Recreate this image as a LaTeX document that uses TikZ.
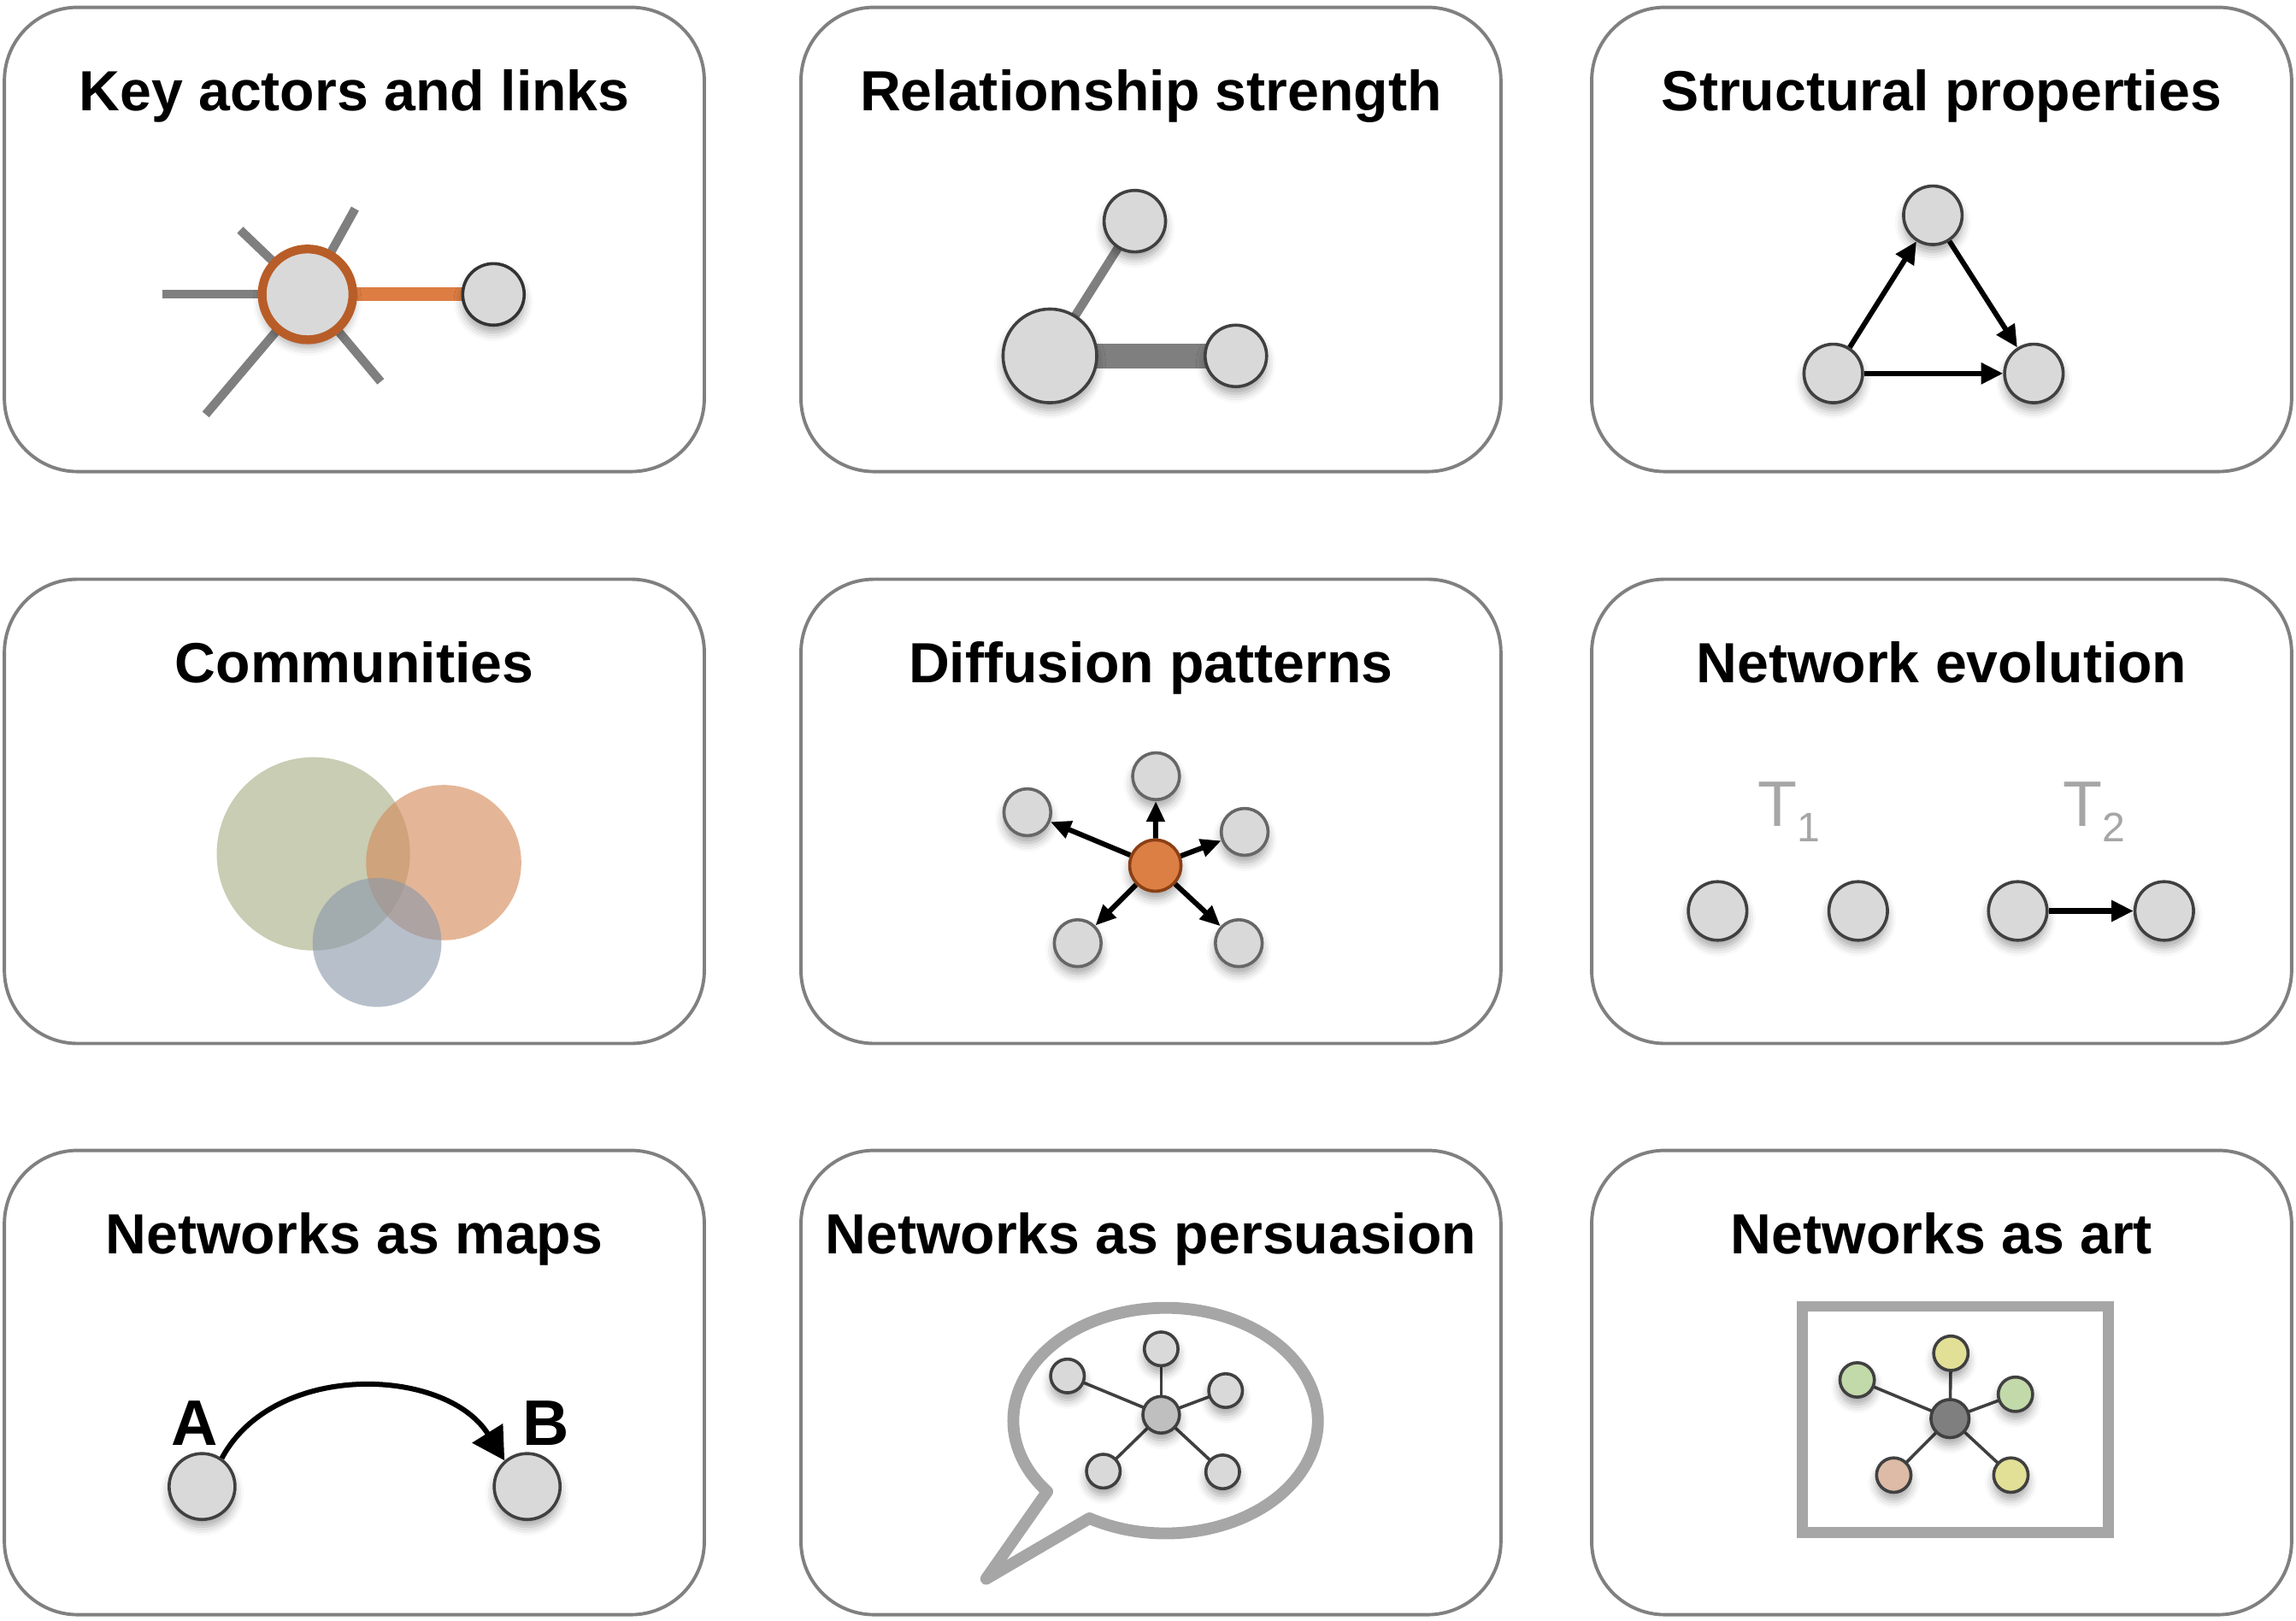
\documentclass[tikz,border=0pt]{standalone}
\usepackage{fontspec}
\setmainfont{Liberation Sans}
\usetikzlibrary{arrows.meta,backgrounds,shadows.blur}
\definecolor{boxgray}{HTML}{808080}
\definecolor{nodefill}{HTML}{D9D9D9}
\definecolor{nodeline}{HTML}{404040}
\definecolor{darkline}{HTML}{333333}
\definecolor{lightline}{HTML}{666666}
\definecolor{ringorange}{HTML}{B85D28}
\definecolor{edgeorange}{HTML}{DD7D43}
\definecolor{spokegray}{HTML}{7F7F7F}
\definecolor{commgreen}{RGB}{200,205,179}
\definecolor{commorange}{RGB}{212,139,91}
\definecolor{commblue}{RGB}{139,152,171}
\definecolor{seedorange}{HTML}{DC7F45}
\definecolor{seedline}{HTML}{8C3F14}
\definecolor{labelgray}{HTML}{A6A6A6}
\definecolor{framegray}{HTML}{A6A6A6}
\definecolor{hubgray}{HTML}{BFBFBF}
\definecolor{artcenter}{HTML}{7F7F7F}
\definecolor{artyellow}{HTML}{E2E096}
\definecolor{artgreen}{HTML}{C2D9A9}
\definecolor{artpeach}{HTML}{DDBBA6}
\tikzset{
  panel/.style={draw=boxgray, line width=0.65pt, rounded corners=5mm,
    minimum width=47.8mm, minimum height=31.7mm, inner sep=0pt},
  paneltitle/.style={font=\fontsize{11}{13}\selectfont\bfseries, anchor=base, inner sep=0pt},
  nodeshadow/.style={blur shadow={shadow xshift=0mm, shadow yshift=-0.5mm,
    shadow blur radius=0.6mm, shadow opacity=35}},
  actor/.style={circle, draw=nodeline, fill=nodefill, line width=0.6pt,
    inner sep=0pt, minimum size=#1, nodeshadow},
  actor/.default=4.2mm,
  spoke/.style={draw=spokegray, line width=1.7pt},
  tie/.style={draw=nodeline, line width=0.6pt},
  flow/.style={line width=1pt, -{Triangle[length=1.5mm,width=1.4mm]}},
  timelabel/.style={font=\fontsize{12.5}{15}\selectfont, text=labelgray, anchor=base west, inner sep=0pt},
  placelabel/.style={font=\fontsize{12.5}{15}\selectfont\bfseries, anchor=base, inner sep=0pt},
  bubble/.style={draw=framegray, line width=2.3pt, line join=round},
  frame/.style={draw=framegray, line width=2.1pt},
}
\begin{document}
\begin{tikzpicture}[x=0.1mm,y=0.1mm]
  \useasboundingbox (0,0) rectangle (1568,-1106.3);
  \foreach \name/\cx/\cy/\txt in {kal/242/163.5/Key actors and links,
    rel/786/163.5/Relationship strength, str/1326/163.5/Structural properties,
    com/242/554/Communities, dif/786/554/Diffusion patterns,
    evo/1326/554/Network evolution, map/242/944/Networks as maps,
    per/786/944/Networks as persuasion, art/1326/944/Networks as art}
  {
    \node[panel] (\name) at (\cx,-\cy) {};
    \node[paneltitle] (\name-title) at ([yshift=-7.15mm]\name.north) {\txt};
  }

  % key actors
  \node[actor=6.2mm, draw=ringorange, line width=1.7pt] (kal-hub) at (210,-201) {};
  \node[actor, draw=darkline] (kal-leaf) at (337,-201) {};
  \coordinate (kal-w) at (111,-201);
  \coordinate (kal-nw) at (164,-157);
  \coordinate (kal-ne) at (242.5,-142.5);
  \coordinate (kal-sw) at (140.5,-283);
  \coordinate (kal-se) at (260,-260.6);

  % relationship strength
  \node[actor=6.4mm] (rel-big) at (717,-243) {};
  \node[actor] (rel-top) at (775,-151) {};
  \node[actor] (rel-right) at (844,-243) {};

  % structural properties
  \node[actor=4mm] (str-top) at (1320,-147) {};
  \node[actor=4mm] (str-left) at (1252,-255) {};
  \node[actor=4mm] (str-right) at (1389,-255) {};
  \draw[flow] (str-left) -- (str-top);
  \draw[flow] (str-top) -- (str-right);
  \draw[flow] (str-left) -- (str-right);

  % communities
  \fill[commgreen] (214,-583) circle[radius=66];
  \fill[commorange, opacity=0.63] (303,-589) circle[radius=53];
  \fill[commblue, opacity=0.62] (257.5,-643.5) circle[radius=44];

  % diffusion
  \node[actor=3.5mm, fill=seedorange, draw=seedline] (dif-seed) at (789,-591) {};
  \foreach \n/\x/\y in {a/789.5/530, b/701.6/554.6, c/850/568, d/736/644, e/846/644}
  {
    \node[actor=3.2mm, draw=lightline] (dif-\n) at (\x,-\y) {};
    \draw[flow, -{Triangle[length=1.4mm,width=1.2mm]}] (dif-seed) -- (dif-\n);
  }

  % evolution
  \node[timelabel] (evo-t1) at (1200,-564) {T\raisebox{-3.1pt}{\fontsize{8}{9.6}\selectfont 1}};
  \node[timelabel] (evo-t2) at (1408,-564) {T\raisebox{-3.1pt}{\fontsize{8}{9.6}\selectfont 2}};
  \node[actor=4mm] (evo-a) at (1173,-622) {};
  \node[actor=4mm] (evo-b) at (1269,-622) {};
  \node[actor=4mm] (evo-c) at (1378,-622) {};
  \node[actor=4mm] (evo-d) at (1478,-622) {};
  \draw[flow] (evo-c) -- (evo-d);

  % maps
  \node[actor=4.5mm] (map-a) at (138,-1015) {};
  \node[actor=4.5mm] (map-b) at (360,-1015) {};
  \node[placelabel] (map-la) at (133,-987) {A};
  \node[placelabel] (map-lb) at (373,-987) {B};
  \draw[line width=1pt, -{Triangle[length=2.2mm,width=2.4mm]}]
    (map-a.55) to[out=62, in=122] (map-b.131);

  % persuasion
  \coordinate (per-tip) at (673.5,-1078);
  \draw[bubble] ([shift={(240:104 and 77)}]796,-970)
    arc[start angle=240, end angle=579, x radius=104, y radius=77] -- (per-tip) -- cycle;
  \node[actor=2.5mm, fill=hubgray] (per-hub) at (793,-966) {};
  \foreach \n/\x/\y in {a/793/921, b/729/939.5, c/837/949.5, d/753.5/1004.5, e/835/1005}
    \node[actor=2.3mm] (per-\n) at (\x,-\y) {};

  % art
  \draw[frame] (1231,-892) rectangle (1440,-1046.5);
  \node[actor=2.6mm, fill=artcenter] (art-hub) at (1331.7,-968.6) {};
  \foreach \n/\x/\y/\c in {a/1332.3/924/artyellow, b/1268.3/942.2/artgreen,
    c/1376.4/952/artgreen, d/1293.3/1007.2/artpeach, e/1373.3/1007.2/artyellow}
    \node[actor=2.35mm, fill=\c] (art-\n) at (\x,-\y) {};

  \begin{scope}[on background layer]
    \foreach \s in {w,nw,ne,sw,se}
      \draw[spoke] (kal-hub.center) -- (kal-\s);
    \draw[draw=edgeorange, line width=2.6pt] (kal-hub.center) -- (kal-leaf.center);
    \draw[spoke] (rel-big.center) -- (rel-top.center);
    \draw[spoke, line width=4.8pt] (rel-big.center) -- (rel-right.center);
    \foreach \n in {a,b,c,d,e}
    {
      \draw[tie] (per-hub.center) -- (per-\n.center);
      \draw[tie] (art-hub.center) -- (art-\n.center);
    }
  \end{scope}
\end{tikzpicture}
\end{document}
